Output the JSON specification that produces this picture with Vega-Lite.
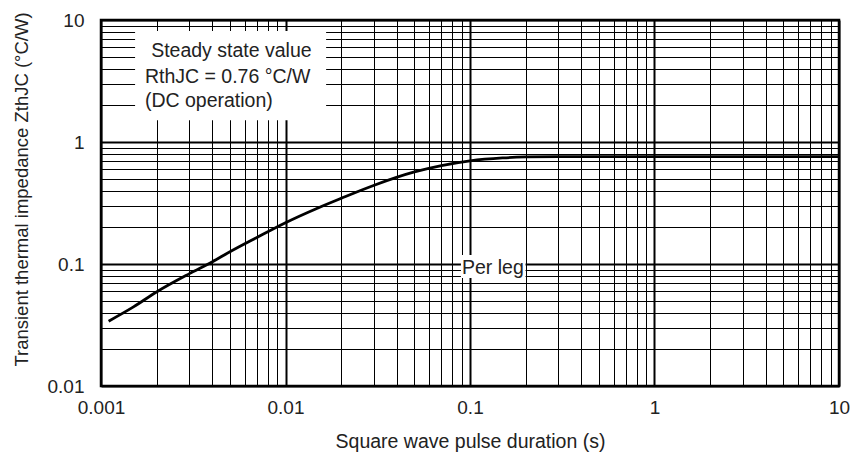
{
  "$schema": "https://vega.github.io/schema/vega-lite/v6.json",
  "autosize": "none",
  "width": 738,
  "height": 366,
  "padding": {"left": 101, "top": 20, "right": 12, "bottom": 69},
  "background": "white",
  "config": {
    "font": "Liberation Sans",
    "view": {"stroke": "#000", "strokeWidth": 2.5},
    "axis": {"labelFont": "Liberation Sans", "titleFont": "Liberation Sans", "labelColor": "#222", "titleColor": "#222", "labelFontSize": 19, "titleFontSize": 19.5, "titleFontWeight": "normal", "ticks": false, "domain": false, "labelFlush": false, "labelOverlap": false, "gridColor": "#000", "gridOpacity": 1}
  },
  "datasets": {
    "curve": [
      {"x": 0.0011, "y": 0.034},
      {"x": 0.0015, "y": 0.0445},
      {"x": 0.002, "y": 0.059},
      {"x": 0.003, "y": 0.083},
      {"x": 0.004, "y": 0.104},
      {"x": 0.005, "y": 0.126},
      {"x": 0.007, "y": 0.165},
      {"x": 0.01, "y": 0.218},
      {"x": 0.015, "y": 0.288},
      {"x": 0.02, "y": 0.345},
      {"x": 0.03, "y": 0.44},
      {"x": 0.05, "y": 0.568},
      {"x": 0.07, "y": 0.64},
      {"x": 0.1, "y": 0.7},
      {"x": 0.15, "y": 0.74},
      {"x": 0.2, "y": 0.754},
      {"x": 0.3, "y": 0.76},
      {"x": 1, "y": 0.76},
      {"x": 10, "y": 0.76}
    ],
    "boxes": [
      {"x": 0.00153, "x2": 0.0166, "y": 8.13, "y2": 1.51},
      {"x": 0.0893, "x2": 0.2, "y": 0.1186, "y2": 0.0767}
    ],
    "labels": [
      {"x": 0.00187, "y": 5.0, "label": "Steady state value"},
      {"x": 0.00173, "y": 3.06, "label": "RthJC = 0.76 °C/W"},
      {"x": 0.00173, "y": 1.945, "label": "(DC operation)"},
      {"x": 0.0905, "y": 0.0824, "label": "Per leg"}
    ]
  },
  "encoding": {
    "x": {
      "field": "x", "type": "quantitative",
      "scale": {"type": "log", "domain": [0.001, 10], "nice": false},
      "axis": {
        "title": "Square wave pulse duration (s)",
        "values": [0.001,0.002,0.003,0.004,0.005,0.006,0.007,0.008,0.009,0.01,0.02,0.03,0.04,0.05,0.06,0.07,0.08,0.09,0.1,0.2,0.3,0.4,0.5,0.6,0.7,0.8,0.9,1,2,3,4,5,6,7,8,9,10],
        "labelExpr": "abs(log(datum.value)/LN10 - round(log(datum.value)/LN10)) < 0.001 ? format(datum.value, '~g') : ''",
        "labelPadding": 12,
        "titlePadding": 15,
        "gridWidth": {"condition": {"test": "abs(log(datum.value)/LN10 - round(log(datum.value)/LN10)) < 0.001", "value": 2}, "value": 1}
      }
    },
    "y": {
      "field": "y", "type": "quantitative",
      "scale": {"type": "log", "domain": [0.01, 10], "nice": false},
      "axis": {
        "title": "Transient thermal impedance ZthJC  (°C/W)",
        "titleFontSize": 18.5,
        "titleY": 169,
        "values": [0.01,0.02,0.03,0.04,0.05,0.06,0.07,0.08,0.09,0.1,0.2,0.3,0.4,0.5,0.6,0.7,0.8,0.9,1,2,3,4,5,6,7,8,9,10],
        "labelExpr": "abs(log(datum.value)/LN10 - round(log(datum.value)/LN10)) < 0.001 ? format(datum.value, '~g') : ''",
        "labelPadding": 17,
        "titlePadding": 16,
        "gridWidth": {"condition": {"test": "abs(log(datum.value)/LN10 - round(log(datum.value)/LN10)) < 0.001", "value": 2}, "value": 1}
      }
    }
  },
  "layer": [
    {
      "data": {"name": "boxes"},
      "mark": {"type": "rect", "fill": "white", "stroke": null},
      "encoding": {"x2": {"field": "x2"}, "y2": {"field": "y2"}}
    },
    {
      "data": {"name": "curve"},
      "mark": {"type": "line", "color": "#000", "strokeWidth": 2.8, "interpolate": "monotone"}
    },
    {
      "data": {"name": "labels"},
      "mark": {"type": "text", "align": "left", "baseline": "alphabetic", "fontSize": 19.5, "color": "#222", "font": "Liberation Sans"},
      "encoding": {"text": {"field": "label"}}
    }
  ]
}
